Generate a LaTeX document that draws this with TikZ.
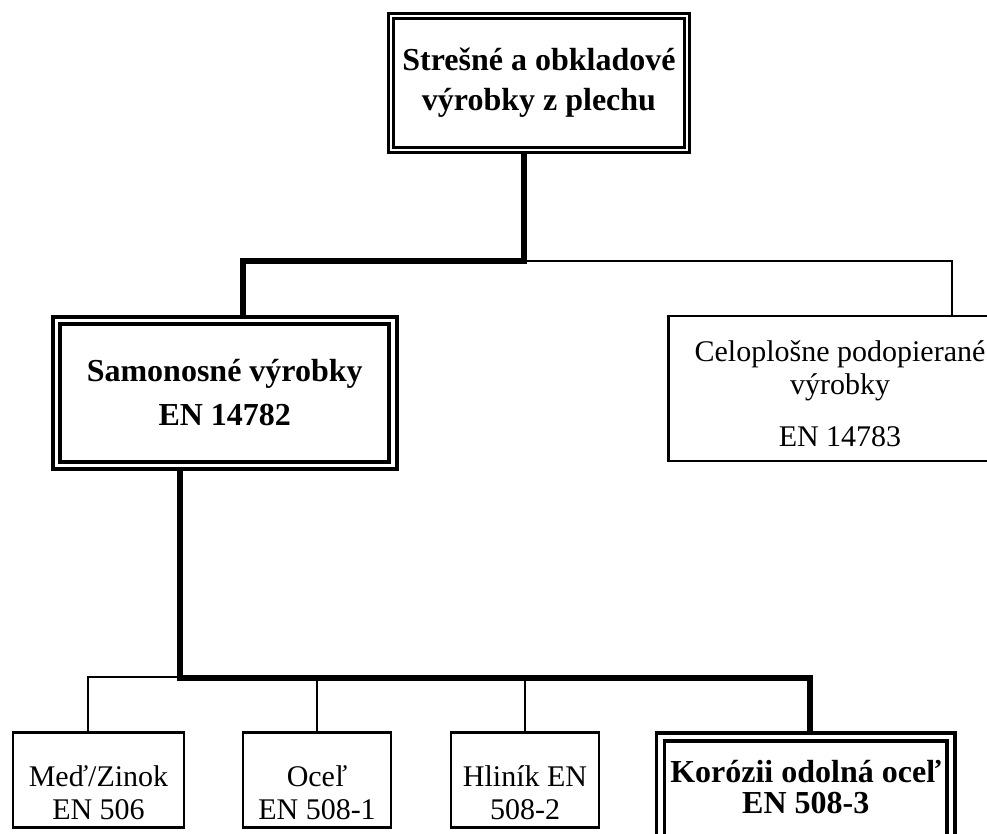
\documentclass[tikz,border=0pt]{standalone}
\usepackage{fontspec}
\setmainfont{Liberation Serif}

\begin{document}
\begin{tikzpicture}[
    x=1pt,y=-1pt,
    txt/.style={
      align=center,
      font=\fontsize{30}{33}\selectfont
    },
    btxt/.style={
      align=center,
      font=\fontsize{32}{40}\selectfont\bfseries
    },
    sbox/.style={
      draw,
      line width=2.5pt,
      inner sep=0pt
    },
    dbox/.style={
      draw,
      double,
      line width=3pt,
      double distance=2.5pt,
      inner sep=0pt,
      outer sep=4.25pt
    },
    main/.style={line width=5.5pt},
    side/.style={line width=2.8pt}
    ]
    \clip (0,0) rectangle (987,833);

    \node[dbox,btxt,minimum width=296pt,minimum height=134pt] 
      (roof) at (539,83) {Strešné a obkladové\\výrobky z plechu};
    \node[dbox,btxt,line width=4pt,double distance=3.5pt,outer sep=5.75pt,
      minimum width=336.5pt,minimum height=145pt] 
      (sn) at (224.75,393) {Samonosné výrobky\\[4pt]EN 14782};
    \node[sbox,minimum width=343pt,minimum height=145pt,
      label={[txt,yshift=-5pt]center:{Celoplošne podopierané\\výrobky\\[19pt]EN 14783}}] 
      (celo) at (840,388.5) {};

    % bottom row
    \node[sbox,minimum width=171pt,minimum height=95pt,
      label={[txt,yshift=-13pt]center:{Meď/Zinok\\EN 506}}] 
      (cu) at (98.5,780) {};
    \node[sbox,minimum width=148pt,minimum height=95pt,
      label={[txt,yshift=-13pt]center:{Oceľ\\EN 508-1}}] 
      (st) at (317,780) {};
    \node[sbox,minimum width=148pt,minimum height=95pt,
      label={[txt,yshift=-13pt]center:{Hliník EN\\508-2}}] 
      (al) at (525,780) {};
    \node[dbox,line width=3.5pt,double distance=4.5pt,outer sep=5.75pt,
      minimum width=290.5pt,minimum height=126pt,
      label={[btxt,font=\fontsize{32}{31}\selectfont\bfseries,yshift=13pt]center:{Korózii odolná oceľ\\EN 508-3}}] 
      (ss) at (805.75,800) {};

    \coordinate (top-j) at (524,261);
    \coordinate (left-j) at (243,261);
    \coordinate (right-j) at (952,261);
    \coordinate (mid-j) at (180,678);
    \coordinate (end-j) at (810,678);
    \coordinate (cu-j) at (88,677);

    \draw[side] (top-j) -- (right-j) -- (right-j |- celo.north);
    \draw[main] (roof.south -| top-j) -- (top-j) -- (left-j) -- (left-j |- sn.north);

    \draw[side] (mid-j |- cu-j) -- (cu-j) -- (cu-j |- cu.north);
    \draw[side,line width=1.6pt] (st.north |- mid-j) -- (st.north);
    \draw[side] (al.north |- mid-j) -- (al.north);
    \draw[main] (mid-j |- sn.south) -- (mid-j) -- (end-j) -- (end-j |- ss.north);
\end{tikzpicture}
\end{document}
